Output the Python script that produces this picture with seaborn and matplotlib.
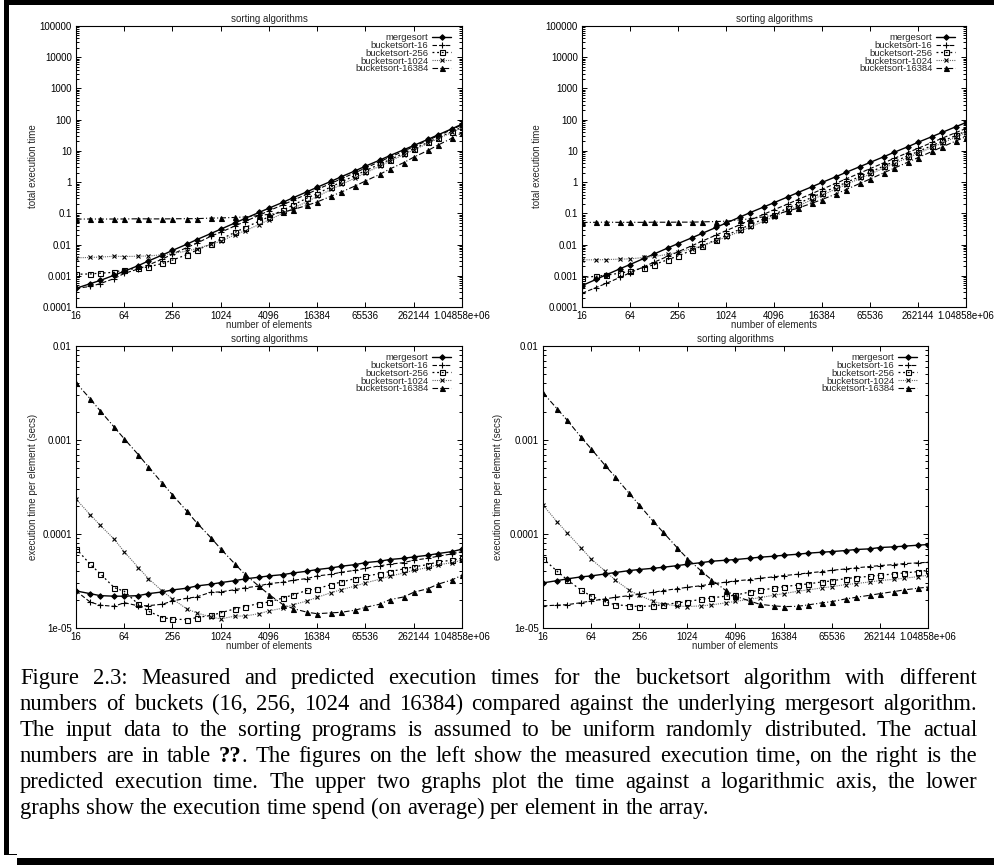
import numpy as np
import pandas as pd
import seaborn as sns
import matplotlib
matplotlib.use("Agg")
import matplotlib.pyplot as plt
from matplotlib.patches import Rectangle
from matplotlib.ticker import FixedLocator, FuncFormatter, LogLocator, NullLocator, NullFormatter

W, H = 995, 865

# number of elements (x axis)
n_elements = [16, 24, 32, 48, 64, 96, 128, 192, 256, 384, 512, 768, 1024, 1536, 2048, 3072,
              4096, 6144, 8192, 12288, 16384, 24576, 32768, 49152, 65536, 98304, 131072,
              196608, 262144, 393216, 524288, 786432, 1048576]

# execution time per element, in units of 1e-5 secs (measured)
meas_merge = [2.48, 2.32, 2.21, 2.18, 2.18, 2.21, 2.32, 2.42, 2.54, 2.65, 2.80, 2.92, 3.04, 3.19, 3.33, 3.47,
              3.58, 3.70, 3.85, 4.02, 4.19, 4.36, 4.54, 4.73, 4.96, 5.13, 5.35, 5.52, 5.70, 5.94, 6.19, 6.50, 6.89]
meas_b16 = [2.48, 1.89, 1.75, 1.70, 1.86, 1.72, 1.73, 1.79, 1.94, 2.07, 2.14, 2.40, 2.42, 2.56, 2.67, 2.80,
            2.97, 3.07, 3.22, 3.36, 3.58, 3.73, 3.92, 4.11, 4.32, 4.58, 4.77, 4.96, 5.26, 5.52, 5.80, 6.14, 6.50]
meas_b256 = [7.0, 4.77, 3.79, 2.69, 2.46, 1.79, 1.51, 1.29, 1.24, 1.23, 1.29, 1.36, 1.45, 1.60, 1.69, 1.82,
             1.89, 2.09, 2.25, 2.52, 2.62, 2.90, 3.09, 3.36, 3.55, 3.79, 3.98, 4.25, 4.47, 4.73, 5.05, 5.26, 5.52]
meas_b1024 = [23.5, 16.1, 12.4, 8.8, 6.46, 4.40, 3.36, 2.46, 2.04, 1.60, 1.45, 1.31, 1.25, 1.34, 1.34, 1.42,
              1.52, 1.63, 1.77, 1.94, 2.12, 2.38, 2.56, 2.80, 3.02, 3.30, 3.55, 3.85, 4.11, 4.40, 4.69, 4.96, 5.26]
meas_b16384 = [407, 275, 205, 137, 103, 69.7, 51.9, 34.5, 26.1, 17.6, 13.2, 9.17, 6.95, 4.81, 3.73, 2.78,
               2.27, 1.77, 1.61, 1.47, 1.42, 1.45, 1.47, 1.55, 1.66, 1.79, 2.00, 2.14, 2.40, 2.62, 2.92, 3.25, 3.64]

# execution time per element, in units of 1e-5 secs (predicted)
pred_merge = [3.02, 3.19, 3.33, 3.50, 3.58, 3.76, 3.89, 4.08, 4.19, 4.32, 4.43, 4.61, 4.77, 4.96, 5.13, 5.26,
              5.35, 5.52, 5.66, 5.80, 5.94, 6.09, 6.25, 6.40, 6.50, 6.67, 6.84, 6.95, 7.18, 7.30, 7.42, 7.60, 7.73]
pred_b16 = [1.72, 1.75, 1.77, 1.86, 1.94, 2.04, 2.12, 2.21, 2.29, 2.40, 2.50, 2.62, 2.71, 2.82, 2.94, 3.07,
            3.17, 3.27, 3.38, 3.50, 3.61, 3.73, 3.85, 3.98, 4.11, 4.25, 4.36, 4.51, 4.61, 4.73, 4.84, 4.93, 5.00]
pred_b256 = [5.48, 4.02, 3.27, 2.52, 2.19, 1.89, 1.77, 1.72, 1.69, 1.72, 1.77, 1.85, 1.91, 2.02, 2.09, 2.18,
             2.23, 2.42, 2.52, 2.65, 2.75, 2.87, 2.94, 3.09, 3.17, 3.36, 3.44, 3.55, 3.64, 3.76, 3.85, 3.98, 4.11]
pred_b1024 = [20.3, 13.5, 10.3, 7.11, 5.43, 4.02, 3.25, 2.52, 2.23, 1.92, 1.79, 1.72, 1.69, 1.72, 1.76, 1.85,
              1.92, 2.02, 2.10, 2.23, 2.32, 2.46, 2.54, 2.67, 2.75, 2.90, 2.97, 3.09, 3.19, 3.30, 3.38, 3.52, 3.64]
pred_b16384 = [318, 215, 163, 107, 80.7, 53.6, 40.6, 27.0, 20.4, 13.6, 10.4, 7.11, 5.48, 4.02, 3.27, 2.52,
               2.18, 1.94, 1.79, 1.72, 1.69, 1.70, 1.76, 1.85, 1.91, 2.04, 2.12, 2.23, 2.32, 2.44, 2.54, 2.65, 2.73]

algos = ["mergesort", "bucketsort-16", "bucketsort-256", "bucketsort-1024", "bucketsort-16384"]
measured = [meas_merge, meas_b16, meas_b256, meas_b1024, meas_b16384]
predicted = [pred_merge, pred_b16, pred_b256, pred_b1024, pred_b16384]

x_ticks = [16, 64, 256, 1024, 4096, 16384, 65536, 262144, 1048576]
y_ticks_total = [1e-4, 1e-3, 1e-2, 1e-1, 1, 10, 100, 1000, 10000, 100000]
y_ticks_elem = [1e-5, 1e-4, 1e-3, 1e-2]

caption_lines = [
    "Figure 2.3:  Measured and predicted execution times for the bucketsort algorithm with different",
    "numbers of buckets (16, 256, 1024 and 16384) compared against the underlying mergesort algorithm.",
    "The input data to the sorting programs is assumed to be uniform randomly distributed.  The actual",
    "numbers are in table ??. The figures on the left show the measured execution time, on the right is the",
    "predicted execution time.  The upper two graphs plot the time against a logarithmic axis, the lower",
    "graphs show the execution time spend (on average) per element in the array.",
]

styles = {
    "mergesort": dict(marker="D", markersize=2.8, markerfacecolor="black", linestyle="-", color="black", linewidth=1.0),
    "bucketsort-16": dict(marker="+", markersize=4.5, markerfacecolor="black", linestyle=(0, (4, 2)), color="black", linewidth=0.8),
    "bucketsort-256": dict(marker="s", markersize=3.6, markerfacecolor="none", linestyle=(0, (1.5, 2.2)), color="black", linewidth=0.9),
    "bucketsort-1024": dict(marker="x", markersize=3.4, markerfacecolor="black", linestyle=(0, (1, 1)), color="0.4", linewidth=0.8),
    "bucketsort-16384": dict(marker="^", markersize=3.6, markerfacecolor="black", linestyle=(0, (5, 2, 1, 2)), color="black", linewidth=0.8),
}

sns.set_theme(style="ticks")
plt.rcParams['font.family'] = ['Liberation Sans', 'DejaVu Sans']
plt.rcParams['axes.edgecolor'] = 'black'
plt.rcParams['axes.linewidth'] = 0.8

fig = plt.figure(figsize=(W / 100, H / 100), dpi=100)
fig.patch.set_facecolor("white")


def px_axes(l, t, r, b):
    return fig.add_axes([l / W, 1 - b / H, (r - l) / W, (b - t) / H])


def draw_panel(ax, series, total, ylim, yticks, ylabel, label_off):
    n = np.array(n_elements, dtype=float)
    rows = []
    for name, vals in zip(algos, series):
        y = np.array(vals) * 1e-5
        if total:
            y = y * n
        rows.append(pd.DataFrame({"n": n, "t": y, "algo": name}))
    df = pd.concat(rows)
    for name in algos:
        st = styles[name]
        sub = df[df["algo"] == name]
        sns.lineplot(data=sub, x="n", y="t", ax=ax, label=name, estimator=None, sort=False,
                     color=st["color"], linestyle=st["linestyle"], linewidth=st["linewidth"],
                     marker=st["marker"], markersize=st["markersize"],
                     markerfacecolor=st["markerfacecolor"], markeredgecolor="black",
                     markeredgewidth=0.8, zorder=3)
    ax.set_xscale("log")
    ax.set_yscale("log")
    ax.set_xlim(16, 1048576)
    ax.set_ylim(*ylim)
    ax.xaxis.set_major_locator(FixedLocator(x_ticks))
    ax.xaxis.set_minor_locator(NullLocator())
    ax.xaxis.set_major_formatter(FuncFormatter(lambda v, p: f"{v:g}"))
    ax.yaxis.set_major_locator(FixedLocator(yticks))
    ax.yaxis.set_minor_locator(LogLocator(base=10, subs=np.arange(2, 10)))
    ax.yaxis.set_minor_formatter(NullFormatter())
    ax.yaxis.set_major_formatter(FuncFormatter(lambda v, p: f"{v:g}"))
    ax.tick_params(which="both", direction="in", top=True, right=True, color="black",
                   labelsize=7, labelcolor="black", width=0.7, pad=3)
    ax.tick_params(which="major", length=3.5)
    ax.tick_params(which="minor", length=2)
    for sp in ax.spines.values():
        sp.set_color("black")
        sp.set_linewidth(0.8)
        sp.set_visible(True)
    ax.set_title("sorting algorithms", fontsize=7, pad=3)
    ax.set_xlabel("number of elements", fontsize=7)
    ax.set_ylabel(ylabel, fontsize=7)
    bb = ax.get_position()
    w_px = bb.width * W
    h_px = bb.height * H
    ax.xaxis.set_label_coords(0.5, -13 / h_px)
    ax.yaxis.set_label_coords(-label_off / w_px, 0.5)
    ax.legend(loc="upper right", bbox_to_anchor=(1 - 11 / w_px, 1 - 7 / h_px), frameon=False,
              markerfirst=False, fontsize=6.8, handlelength=2.0, handletextpad=0.4,
              labelspacing=-0.12, borderpad=0, borderaxespad=0)
    ax.set_facecolor("white")


ax_tl = px_axes(76, 26, 462, 307)
ax_tr = px_axes(582, 26, 966, 307)
ax_bl = px_axes(76, 346, 462, 628)
ax_br = px_axes(543, 346, 928, 628)

draw_panel(ax_tl, measured, True, (1e-4, 1e5), y_ticks_total, "total execution time", 38)
draw_panel(ax_tr, predicted, True, (1e-4, 1e5), y_ticks_total, "total execution time", 40)
draw_panel(ax_bl, measured, False, (1e-5, 1e-2), y_ticks_elem, "execution time per element (secs)", 38)
draw_panel(ax_br, predicted, False, (1e-5, 1e-2), y_ticks_elem, "execution time per element (secs)", 40)

# caption, justified like the LaTeX original
renderer = fig.canvas.get_renderer()
cap_font = ["Liberation Serif", "DejaVu Serif"]
cap_size = 16.3
x0, x1 = 20, 977
for i, line in enumerate(caption_lines):
    words = line.split()
    base = 684 + 26 * i
    placed = []
    widths = []
    for w in words:
        parts = [(w[:2], "bold"), (w[2:], "normal")] if w.startswith("??") else [(w, "normal")]
        items = []
        off = 0.0
        for s, wt in parts:
            if not s:
                continue
            t = fig.text(0, 0, s, fontsize=cap_size, fontweight=wt, family=cap_font,
                         va="baseline", ha="left", color="black")
            items.append((t, off))
            off += t.get_window_extent(renderer).width
        placed.append(items)
        widths.append(off)
    if i < len(caption_lines) - 1:
        gap = (x1 - x0 - sum(widths)) / (len(words) - 1)
    else:
        gap = 0.25 * cap_size * 100 / 72
    x = x0
    for items, w in zip(placed, widths):
        for t, off in items:
            t.set_position(((x + off) / W, 1 - base / H))
        x += w + gap

# shadow box frame
for (l, t, r, b) in [(5, 0, 995, 4.5), (4, 0, 9, 855), (4, 853.5, 17, 855), (17, 858, 995, 865)]:
    fig.add_artist(Rectangle((l / W, 1 - b / H), (r - l) / W, (b - t) / H,
                             transform=fig.transFigure, color="black", lw=0))

fig.savefig("out.png", dpi=100, facecolor="white")
